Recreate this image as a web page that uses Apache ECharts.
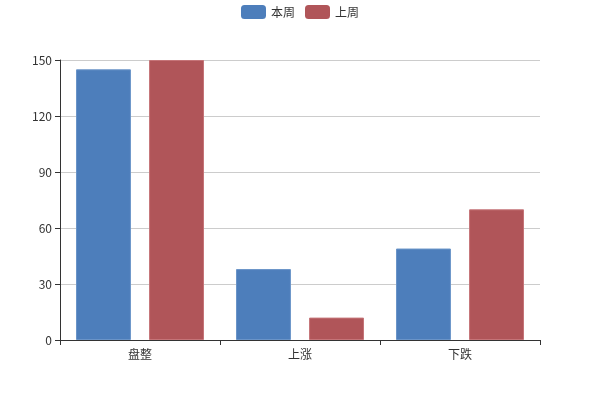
<!DOCTYPE html>
<html><head><meta charset="utf-8">
<script src="https://cdn.jsdelivr.net/npm/echarts@6/dist/echarts.min.js"></script>
<style>html,body{margin:0;padding:0;background:#fff}#c{width:600px;height:400px}</style>
</head><body><div id="c"></div>
<script>
const categories = ['盘整', '上涨', '下跌'];
const thisWeek = [145, 38, 49];
const lastWeek = [150, 12, 70];
const yTicks = [0, 30, 60, 90, 120, 150];

const chart = echarts.init(document.getElementById('c'), null, {renderer: 'canvas'});
const font = '"Noto Sans CJK SC", "Noto Sans", sans-serif';
chart.setOption({
  animation: false,
  textStyle: {fontFamily: font},
  legend: {
    top: 0, left: 'center', itemWidth: 25, itemHeight: 14, itemGap: 10,
    itemStyle: {borderWidth: 0},
    textStyle: {fontFamily: font, fontSize: 12, color: '#333'},
    data: ['本周', '上周']
  },
  grid: {left: 60, right: 60, top: 60, bottom: 60, containLabel: false},
  xAxis: {
    type: 'category', data: categories,
    axisLine: {lineStyle: {color: '#333'}},
    axisTick: {show: true, alignWithLabel: false, length: 5, lineStyle: {color: '#333'}},
    axisLabel: {color: '#333', fontSize: 12, fontFamily: font}
  },
  yAxis: {
    type: 'value', min: yTicks[0], max: yTicks[yTicks.length - 1], interval: 30,
    axisLine: {show: true, lineStyle: {color: '#333'}},
    axisTick: {show: true, length: 5, lineStyle: {color: '#333'}},
    axisLabel: {color: '#333', fontSize: 12, fontFamily: font},
    splitLine: {lineStyle: {color: '#ccc'}}
  },
  series: [
    {name: '本周', type: 'bar', data: thisWeek, barGap: '33%', barCategoryGap: '20%',
     itemStyle: {color: '#4d7ebb', borderColor: '#6a94c8', borderWidth: 1}},
    {name: '上周', type: 'bar', data: lastWeek,
     itemStyle: {color: '#b05559', borderColor: '#c57478', borderWidth: 1}}
  ]
});
</script></body></html>
